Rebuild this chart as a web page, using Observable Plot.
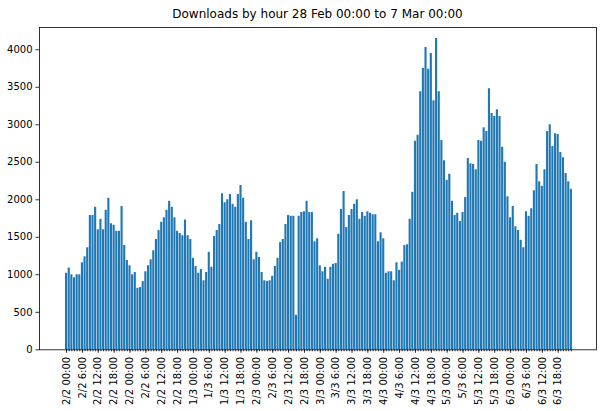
<!DOCTYPE html>
<html>
<head>
<meta charset="utf-8">
<script src="https://cdn.jsdelivr.net/npm/d3@7"></script>
<script src="https://cdn.jsdelivr.net/npm/@observablehq/plot@0.6"></script>
<style>
  html, body { margin: 0; padding: 0; background: #fff; }
  #wrap { width: 604px; height: 411px; font-family: "DejaVu Sans", sans-serif; }
  #title { height: 22px; box-sizing: border-box; padding-top: 6px; line-height: 16px; font-size: 12px;
           text-align: center; padding-left: 39px; padding-right: 8px; color: #000; }
  svg { display: block; }
</style>
</head>
<body>
<div id="wrap">
  <div id="title">Downloads by hour 28 Feb 00:00 to 7 Mar 00:00</div>
  <div id="chart"></div>
</div>
<script>
// Hourly download counts, 28 Feb 00:00 .. 6 Mar 23:00 (192 hours)
const downloads = [
  1020,1090,1000,960,1000,1000,1160,1240,1360,1790,1790,1900,1600,1740,1600,1860,2020,1680,1660,1580,1580,1910,1390,1190,
  1120,1000,1030,820,830,910,1040,1120,1200,1320,1470,1590,1700,1760,1860,1980,1900,1760,1580,1550,1520,1730,1520,1470,
  1220,1110,1020,1070,920,1030,1300,1100,1510,1590,1670,2080,1960,2000,2070,1940,1900,2070,2190,2020,1700,1470,1720,1200,
  1300,1230,1030,920,910,920,980,1110,1220,1430,1470,1670,1790,1780,1780,460,1780,1830,1840,1980,1830,1830,1440,1480,
  1120,1040,1100,940,1100,1140,1150,1540,1870,2110,1630,1790,1870,1940,2000,1740,1830,1780,1840,1820,1800,1800,1440,1560,
  1480,1020,1040,1040,920,1160,1060,1170,1390,1400,1740,2100,2780,2860,3440,3750,4030,3740,3950,3320,4150,3440,2790,2520,
  2260,2340,1980,1790,1820,1710,1830,2030,2550,2480,2470,2400,2790,2780,2960,2910,3480,3150,3110,3200,3110,2700,2500,2040,
  1760,1910,1640,1590,1460,1360,1840,1780,1880,2120,2470,2240,2180,2400,2910,3000,2710,2880,2870,2630,2560,2350,2240,2140
];
const hours = downloads.map((_, i) => i);
const tickLabels = [
  "2/2 00:00","2/2 6:00","2/2 12:00","2/2 18:00",
  "2/2 00:00","2/2 6:00","2/2 12:00","2/2 18:00",
  "1/3 00:00","1/3 6:00","1/3 12:00","1/3 18:00",
  "2/3 00:00","2/3 6:00","2/3 12:00","2/3 18:00",
  "3/3 00:00","3/3 6:00","3/3 12:00","3/3 18:00",
  "4/3 00:00","4/3 6:00","4/3 12:00","4/3 18:00",
  "5/3 00:00","5/3 6:00","5/3 12:00","5/3 18:00",
  "6/3 00:00","6/3 6:00","6/3 12:00","6/3 18:00"
];
const yTicks = [0, 500, 1000, 1500, 2000, 2500, 3000, 3500, 4000];

const data = hours.map(i => ({i, v: downloads[i]}));
const majorTicks = tickLabels.map((_, k) => k * 6);

const chart = Plot.plot({
  width: 604,
  height: 389,
  marginLeft: 39,
  marginRight: 8,
  marginTop: 5,
  marginBottom: 61.7,
  style: { fontFamily: "DejaVu Sans, sans-serif", fontSize: "10px", color: "#000", background: "#fff" },
  x: { type: "linear", domain: [-10.24, 200.5], label: null },
  y: { domain: [0, 4297], label: null },
  marks: [
    Plot.rectY(data, { x1: d => d.i - 0.4, x2: d => d.i + 0.4, y: "v", fill: "#1f77b4" }),
    Plot.axisX(hours, { tickSize: 2, tickFormat: () => "", strokeWidth: 0.8 }),
    Plot.axisX(majorTicks, { tickSize: 3.5, tickPadding: 3.5, tickRotate: -90,
      tickFormat: d => tickLabels[d / 6], strokeWidth: 0.8, fontSize: 10, fill: "#000" }),
    Plot.axisY(yTicks, { tickSize: 3.5, tickPadding: 3.5, strokeWidth: 0.8, fontSize: 10, fill: "#000",
      tickFormat: d => String(d) }),
    Plot.frame({ stroke: "#000", strokeWidth: 0.8 })
  ]
});
document.getElementById("chart").appendChild(chart);
</script>
</body>
</html>
